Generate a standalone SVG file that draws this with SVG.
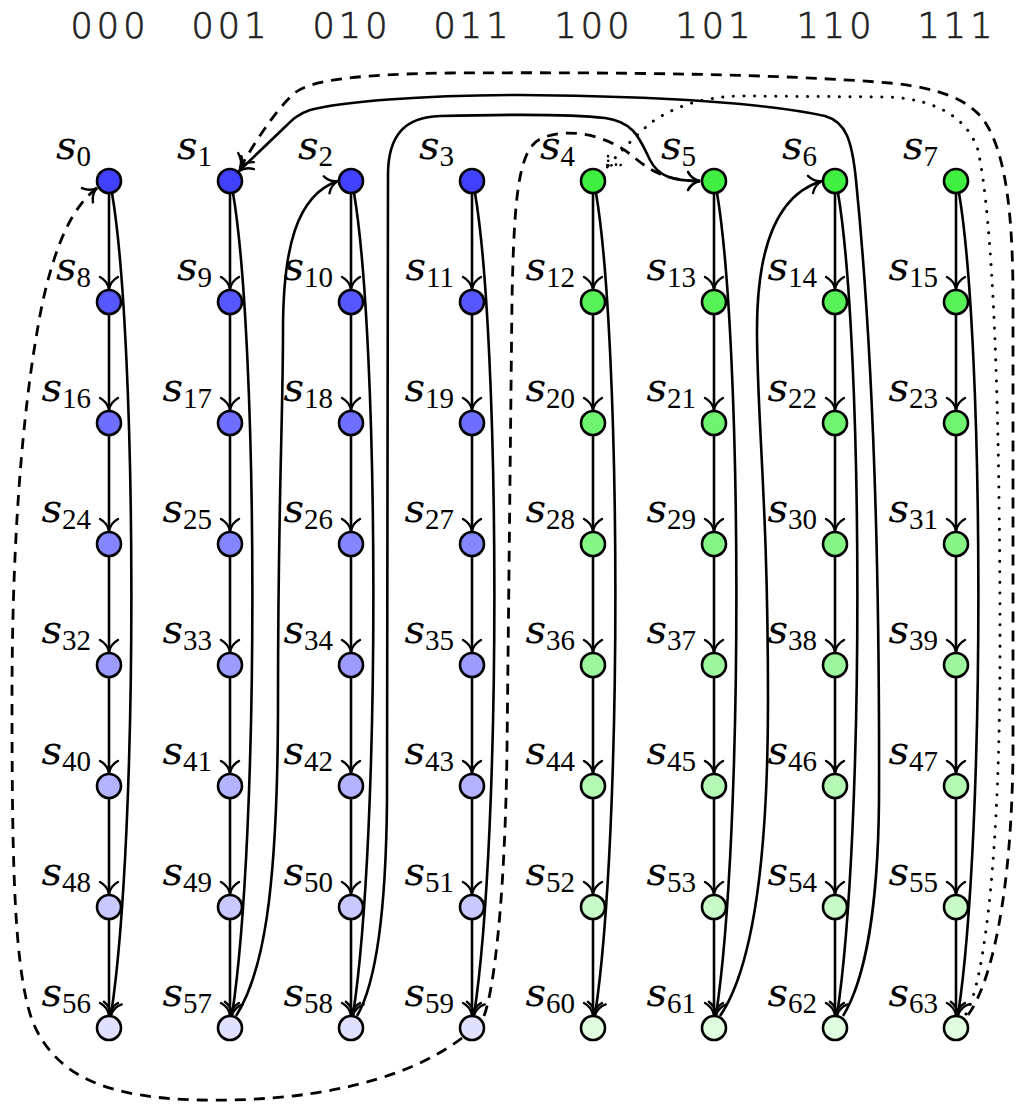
<svg xmlns="http://www.w3.org/2000/svg" width="1017" height="1104" viewBox="0 0 1017 1104">
<style>
  .hdr { font-family: "DejaVu Sans", sans-serif; font-weight: 200; font-size: 35px; letter-spacing: 4px; fill: #222; stroke: #222; stroke-width: 0.7; text-anchor: middle; }
  .lab { font-family: "DejaVu Serif", "Liberation Serif", serif; font-style: italic; font-size: 40px; fill: #000; text-anchor: end; }
  .sub { font-family: "Liberation Serif", serif; font-style: normal; font-size: 29px; }
  .n { stroke: #000; stroke-width: 2.6; }
  .b0 { fill: #4040ff; } .b1 { fill: #5757ff; } .b2 { fill: #6e6eff; } .b3 { fill: #8585ff; }
  .b4 { fill: #9c9cff; } .b5 { fill: #b3b3ff; } .b6 { fill: #c9c9ff; } .b7 { fill: #e0e0ff; }
  .g0 { fill: #40f040; } .g1 { fill: #57f257; } .g2 { fill: #6ef46e; } .g3 { fill: #85f585; }
  .g4 { fill: #9cf79c; } .g5 { fill: #b3f9b3; } .g6 { fill: #c9fbc9; } .g7 { fill: #e0fde0; }
  #edges path { fill: none; stroke: #000; stroke-width: 2.6; marker-end: url(#to); }
  #edges path.dash { stroke-width: 2.8; stroke-dasharray: 11 8; }
  #edges path.dot { stroke-width: 3; stroke-linecap: round; stroke-dasharray: 0.1 10.5; marker-end: url(#todot); }
</style>
<defs>
  <marker id="to" viewBox="-14 -11 16 22" refX="0" refY="0" markerWidth="16" markerHeight="22" markerUnits="userSpaceOnUse" orient="auto">
    <path d="M-12,-9 C-9,-3.5 -3.5,-0.7 0,0 C-3.5,0.7 -9,3.5 -12,9" fill="none" stroke="#000" stroke-width="2.4" stroke-linecap="round"/>
  </marker>
  <marker id="todot" viewBox="-14 -11 16 22" refX="0" refY="0" markerWidth="16" markerHeight="22" markerUnits="userSpaceOnUse" orient="auto">
    <path d="M-12,-9 C-9,-3.5 -3.5,-0.7 0,0 C-3.5,0.7 -9,3.5 -12,9" fill="none" stroke="#000" stroke-width="2.6" stroke-linecap="round" stroke-dasharray="0.1 4.5"/>
  </marker>
</defs>
<rect width="1017" height="1104" fill="#fff"/>

<!-- column headers: low three bits of the state index -->
<g id="headers">
  <text class="hdr" x="110" y="38">000</text>
  <text class="hdr" x="231" y="38">001</text>
  <text class="hdr" x="352" y="38">010</text>
  <text class="hdr" x="473" y="38">011</text>
  <text class="hdr" x="594" y="38">100</text>
  <text class="hdr" x="715" y="38">101</text>
  <text class="hdr" x="836" y="38">110</text>
  <text class="hdr" x="957" y="38">111</text>
</g>

<!-- states: 8 columns x 8 rows, s(8r+c) at (109+121c, 181+121r) -->
<g id="nodes">
  <g id="s0"><circle class="n b0" cx="109" cy="181" r="12"/><text class="lab" x="91" y="159">s<tspan class="sub" dy="7">0</tspan></text></g>
  <g id="s1"><circle class="n b0" cx="230" cy="181" r="12"/><text class="lab" x="212" y="159">s<tspan class="sub" dy="7">1</tspan></text></g>
  <g id="s2"><circle class="n b0" cx="351" cy="181" r="12"/><text class="lab" x="333" y="159">s<tspan class="sub" dy="7">2</tspan></text></g>
  <g id="s3"><circle class="n b0" cx="472" cy="181" r="12"/><text class="lab" x="454" y="159">s<tspan class="sub" dy="7">3</tspan></text></g>
  <g id="s4"><circle class="n g0" cx="593" cy="181" r="12"/><text class="lab" x="575" y="159">s<tspan class="sub" dy="7">4</tspan></text></g>
  <g id="s5"><circle class="n g0" cx="714" cy="181" r="12"/><text class="lab" x="696" y="159">s<tspan class="sub" dy="7">5</tspan></text></g>
  <g id="s6"><circle class="n g0" cx="835" cy="181" r="12"/><text class="lab" x="817" y="159">s<tspan class="sub" dy="7">6</tspan></text></g>
  <g id="s7"><circle class="n g0" cx="956" cy="181" r="12"/><text class="lab" x="938" y="159">s<tspan class="sub" dy="7">7</tspan></text></g>

  <g id="s8"><circle class="n b1" cx="109" cy="302" r="12"/><text class="lab" x="91" y="280">s<tspan class="sub" dy="7">8</tspan></text></g>
  <g id="s9"><circle class="n b1" cx="230" cy="302" r="12"/><text class="lab" x="212" y="280">s<tspan class="sub" dy="7">9</tspan></text></g>
  <g id="s10"><circle class="n b1" cx="351" cy="302" r="12"/><text class="lab" x="333" y="280">s<tspan class="sub" dy="7">10</tspan></text></g>
  <g id="s11"><circle class="n b1" cx="472" cy="302" r="12"/><text class="lab" x="454" y="280">s<tspan class="sub" dy="7">11</tspan></text></g>
  <g id="s12"><circle class="n g1" cx="593" cy="302" r="12"/><text class="lab" x="575" y="280">s<tspan class="sub" dy="7">12</tspan></text></g>
  <g id="s13"><circle class="n g1" cx="714" cy="302" r="12"/><text class="lab" x="696" y="280">s<tspan class="sub" dy="7">13</tspan></text></g>
  <g id="s14"><circle class="n g1" cx="835" cy="302" r="12"/><text class="lab" x="817" y="280">s<tspan class="sub" dy="7">14</tspan></text></g>
  <g id="s15"><circle class="n g1" cx="956" cy="302" r="12"/><text class="lab" x="938" y="280">s<tspan class="sub" dy="7">15</tspan></text></g>

  <g id="s16"><circle class="n b2" cx="109" cy="423" r="12"/><text class="lab" x="91" y="401">s<tspan class="sub" dy="7">16</tspan></text></g>
  <g id="s17"><circle class="n b2" cx="230" cy="423" r="12"/><text class="lab" x="212" y="401">s<tspan class="sub" dy="7">17</tspan></text></g>
  <g id="s18"><circle class="n b2" cx="351" cy="423" r="12"/><text class="lab" x="333" y="401">s<tspan class="sub" dy="7">18</tspan></text></g>
  <g id="s19"><circle class="n b2" cx="472" cy="423" r="12"/><text class="lab" x="454" y="401">s<tspan class="sub" dy="7">19</tspan></text></g>
  <g id="s20"><circle class="n g2" cx="593" cy="423" r="12"/><text class="lab" x="575" y="401">s<tspan class="sub" dy="7">20</tspan></text></g>
  <g id="s21"><circle class="n g2" cx="714" cy="423" r="12"/><text class="lab" x="696" y="401">s<tspan class="sub" dy="7">21</tspan></text></g>
  <g id="s22"><circle class="n g2" cx="835" cy="423" r="12"/><text class="lab" x="817" y="401">s<tspan class="sub" dy="7">22</tspan></text></g>
  <g id="s23"><circle class="n g2" cx="956" cy="423" r="12"/><text class="lab" x="938" y="401">s<tspan class="sub" dy="7">23</tspan></text></g>

  <g id="s24"><circle class="n b3" cx="109" cy="544" r="12"/><text class="lab" x="91" y="522">s<tspan class="sub" dy="7">24</tspan></text></g>
  <g id="s25"><circle class="n b3" cx="230" cy="544" r="12"/><text class="lab" x="212" y="522">s<tspan class="sub" dy="7">25</tspan></text></g>
  <g id="s26"><circle class="n b3" cx="351" cy="544" r="12"/><text class="lab" x="333" y="522">s<tspan class="sub" dy="7">26</tspan></text></g>
  <g id="s27"><circle class="n b3" cx="472" cy="544" r="12"/><text class="lab" x="454" y="522">s<tspan class="sub" dy="7">27</tspan></text></g>
  <g id="s28"><circle class="n g3" cx="593" cy="544" r="12"/><text class="lab" x="575" y="522">s<tspan class="sub" dy="7">28</tspan></text></g>
  <g id="s29"><circle class="n g3" cx="714" cy="544" r="12"/><text class="lab" x="696" y="522">s<tspan class="sub" dy="7">29</tspan></text></g>
  <g id="s30"><circle class="n g3" cx="835" cy="544" r="12"/><text class="lab" x="817" y="522">s<tspan class="sub" dy="7">30</tspan></text></g>
  <g id="s31"><circle class="n g3" cx="956" cy="544" r="12"/><text class="lab" x="938" y="522">s<tspan class="sub" dy="7">31</tspan></text></g>

  <g id="s32"><circle class="n b4" cx="109" cy="665" r="12"/><text class="lab" x="91" y="643">s<tspan class="sub" dy="7">32</tspan></text></g>
  <g id="s33"><circle class="n b4" cx="230" cy="665" r="12"/><text class="lab" x="212" y="643">s<tspan class="sub" dy="7">33</tspan></text></g>
  <g id="s34"><circle class="n b4" cx="351" cy="665" r="12"/><text class="lab" x="333" y="643">s<tspan class="sub" dy="7">34</tspan></text></g>
  <g id="s35"><circle class="n b4" cx="472" cy="665" r="12"/><text class="lab" x="454" y="643">s<tspan class="sub" dy="7">35</tspan></text></g>
  <g id="s36"><circle class="n g4" cx="593" cy="665" r="12"/><text class="lab" x="575" y="643">s<tspan class="sub" dy="7">36</tspan></text></g>
  <g id="s37"><circle class="n g4" cx="714" cy="665" r="12"/><text class="lab" x="696" y="643">s<tspan class="sub" dy="7">37</tspan></text></g>
  <g id="s38"><circle class="n g4" cx="835" cy="665" r="12"/><text class="lab" x="817" y="643">s<tspan class="sub" dy="7">38</tspan></text></g>
  <g id="s39"><circle class="n g4" cx="956" cy="665" r="12"/><text class="lab" x="938" y="643">s<tspan class="sub" dy="7">39</tspan></text></g>

  <g id="s40"><circle class="n b5" cx="109" cy="786" r="12"/><text class="lab" x="91" y="764">s<tspan class="sub" dy="7">40</tspan></text></g>
  <g id="s41"><circle class="n b5" cx="230" cy="786" r="12"/><text class="lab" x="212" y="764">s<tspan class="sub" dy="7">41</tspan></text></g>
  <g id="s42"><circle class="n b5" cx="351" cy="786" r="12"/><text class="lab" x="333" y="764">s<tspan class="sub" dy="7">42</tspan></text></g>
  <g id="s43"><circle class="n b5" cx="472" cy="786" r="12"/><text class="lab" x="454" y="764">s<tspan class="sub" dy="7">43</tspan></text></g>
  <g id="s44"><circle class="n g5" cx="593" cy="786" r="12"/><text class="lab" x="575" y="764">s<tspan class="sub" dy="7">44</tspan></text></g>
  <g id="s45"><circle class="n g5" cx="714" cy="786" r="12"/><text class="lab" x="696" y="764">s<tspan class="sub" dy="7">45</tspan></text></g>
  <g id="s46"><circle class="n g5" cx="835" cy="786" r="12"/><text class="lab" x="817" y="764">s<tspan class="sub" dy="7">46</tspan></text></g>
  <g id="s47"><circle class="n g5" cx="956" cy="786" r="12"/><text class="lab" x="938" y="764">s<tspan class="sub" dy="7">47</tspan></text></g>

  <g id="s48"><circle class="n b6" cx="109" cy="907" r="12"/><text class="lab" x="91" y="885">s<tspan class="sub" dy="7">48</tspan></text></g>
  <g id="s49"><circle class="n b6" cx="230" cy="907" r="12"/><text class="lab" x="212" y="885">s<tspan class="sub" dy="7">49</tspan></text></g>
  <g id="s50"><circle class="n b6" cx="351" cy="907" r="12"/><text class="lab" x="333" y="885">s<tspan class="sub" dy="7">50</tspan></text></g>
  <g id="s51"><circle class="n b6" cx="472" cy="907" r="12"/><text class="lab" x="454" y="885">s<tspan class="sub" dy="7">51</tspan></text></g>
  <g id="s52"><circle class="n g6" cx="593" cy="907" r="12"/><text class="lab" x="575" y="885">s<tspan class="sub" dy="7">52</tspan></text></g>
  <g id="s53"><circle class="n g6" cx="714" cy="907" r="12"/><text class="lab" x="696" y="885">s<tspan class="sub" dy="7">53</tspan></text></g>
  <g id="s54"><circle class="n g6" cx="835" cy="907" r="12"/><text class="lab" x="817" y="885">s<tspan class="sub" dy="7">54</tspan></text></g>
  <g id="s55"><circle class="n g6" cx="956" cy="907" r="12"/><text class="lab" x="938" y="885">s<tspan class="sub" dy="7">55</tspan></text></g>

  <g id="s56"><circle class="n b7" cx="109" cy="1028" r="12"/><text class="lab" x="91" y="1006">s<tspan class="sub" dy="7">56</tspan></text></g>
  <g id="s57"><circle class="n b7" cx="230" cy="1028" r="12"/><text class="lab" x="212" y="1006">s<tspan class="sub" dy="7">57</tspan></text></g>
  <g id="s58"><circle class="n b7" cx="351" cy="1028" r="12"/><text class="lab" x="333" y="1006">s<tspan class="sub" dy="7">58</tspan></text></g>
  <g id="s59"><circle class="n b7" cx="472" cy="1028" r="12"/><text class="lab" x="454" y="1006">s<tspan class="sub" dy="7">59</tspan></text></g>
  <g id="s60"><circle class="n g7" cx="593" cy="1028" r="12"/><text class="lab" x="575" y="1006">s<tspan class="sub" dy="7">60</tspan></text></g>
  <g id="s61"><circle class="n g7" cx="714" cy="1028" r="12"/><text class="lab" x="696" y="1006">s<tspan class="sub" dy="7">61</tspan></text></g>
  <g id="s62"><circle class="n g7" cx="835" cy="1028" r="12"/><text class="lab" x="817" y="1006">s<tspan class="sub" dy="7">62</tspan></text></g>
  <g id="s63"><circle class="n g7" cx="956" cy="1028" r="12"/><text class="lab" x="938" y="1006">s<tspan class="sub" dy="7">63</tspan></text></g>
</g>

<g id="edges">
  <!-- column 000: s(i) -> s(i+8) -->
  <path d="M109 193V289"/><path d="M109 314V410"/><path d="M109 435V531"/><path d="M109 556V652"/>
  <path d="M109 677V773"/><path d="M109 798V894"/><path d="M109 919V1015"/>
  <!-- column 001 -->
  <path d="M230 193V289"/><path d="M230 314V410"/><path d="M230 435V531"/><path d="M230 556V652"/>
  <path d="M230 677V773"/><path d="M230 798V894"/><path d="M230 919V1015"/>
  <!-- column 010 -->
  <path d="M351 193V289"/><path d="M351 314V410"/><path d="M351 435V531"/><path d="M351 556V652"/>
  <path d="M351 677V773"/><path d="M351 798V894"/><path d="M351 919V1015"/>
  <!-- column 011 -->
  <path d="M472 193V289"/><path d="M472 314V410"/><path d="M472 435V531"/><path d="M472 556V652"/>
  <path d="M472 677V773"/><path d="M472 798V894"/><path d="M472 919V1015"/>
  <!-- column 100 -->
  <path d="M593 193V289"/><path d="M593 314V410"/><path d="M593 435V531"/><path d="M593 556V652"/>
  <path d="M593 677V773"/><path d="M593 798V894"/><path d="M593 919V1015"/>
  <!-- column 101 -->
  <path d="M714 193V289"/><path d="M714 314V410"/><path d="M714 435V531"/><path d="M714 556V652"/>
  <path d="M714 677V773"/><path d="M714 798V894"/><path d="M714 919V1015"/>
  <!-- column 110 -->
  <path d="M835 193V289"/><path d="M835 314V410"/><path d="M835 435V531"/><path d="M835 556V652"/>
  <path d="M835 677V773"/><path d="M835 798V894"/><path d="M835 919V1015"/>
  <!-- column 111 -->
  <path d="M956 193V289"/><path d="M956 314V410"/><path d="M956 435V531"/><path d="M956 556V652"/>
  <path d="M956 677V773"/><path d="M956 798V894"/><path d="M956 919V1015"/>

  <!-- top row straight to bottom row, bowed to the right -->
  <path d="M112 193C137 340 139 830 111 1015"/>
  <path d="M233 193C258 340 260 830 232 1015"/>
  <path d="M354 193C379 340 381 830 353 1015"/>
  <path d="M475 193C500 340 502 830 474 1015"/>
  <path d="M596 193C621 340 623 830 595 1015"/>
  <path d="M717 193C742 340 744 830 716 1015"/>
  <path d="M838 193C863 340 865 830 837 1015"/>
  <path d="M959 193C984 340 986 830 958 1015"/>

  <!-- s57 -> s2 -->
  <path d="M236 1016C262 975 278 900 278 700C278 500 283 420 283 330C283 250 296 195 338 181"/>
  <!-- s61 -> s6 -->
  <path d="M720 1016C748 975 768 880 768 700C768 500 757 420 757 330C757 250 775 195 822 181"/>
  <!-- s58 -> s5 -->
  <path d="M357 1016C375 985 386 920 387 800L388 175C388 135 405 117 440 116C520 114 580 115 605 118C635 122 640 140 650 160C658 176 672 181 700 181"/>
  <!-- s62 -> s1 -->
  <path d="M843 1016C862 985 878 920 879 800C880 500 868 300 856 180C852 140 846 122 825 116C760 102 640 96 520 95C420 95 340 102 310 110C298 114 292 120 286 126L239 171"/>

  <!-- s59 -> s0, round the bottom left -->
  <path class="dash" d="M462 1038C400 1085 300 1102 200 1100C110 1098 55 1078 32 1020C15 970 12 880 12 700C12 520 25 390 42 305C55 245 72 207 97 188"/>
  <!-- s59 -> s5 -->
  <path class="dash" d="M484 1016C494 990 505 900 507 750L512 300C514 200 518 150 540 139C570 125 610 138 630 154C645 166 660 181 700 181"/>
  <!-- s63 -> s1, outermost on the right -->
  <path class="dash" d="M968 1015C990 985 1012 900 1013 750L1013 300C1013 200 1003 150 985 122C970 100 940 88 890 83C780 74 620 72 450 73C360 74 312 80 296 92C282 103 262 130 240 168"/>
  <!-- s63 -> s4 -->
  <path class="dot" d="M966 1014C985 980 1000 850 1000 650C1000 400 993 220 978 150C968 120 940 100 890 97L740 96C700 97 672 108 652 122C637 134 622 150 606 168"/>
</g>
</svg>
